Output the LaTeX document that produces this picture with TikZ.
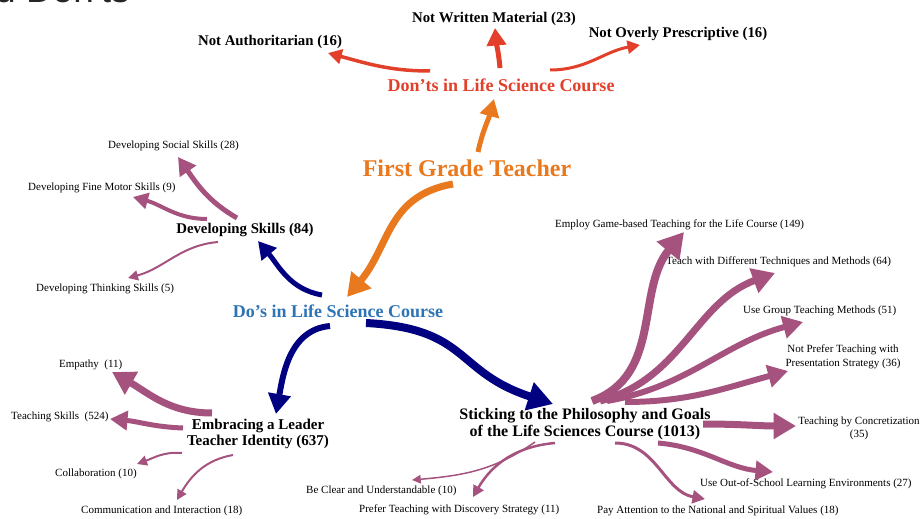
\documentclass[tikz,border=0pt]{standalone}
\usepackage{fontspec}
\setmainfont{Liberation Serif}
\newfontfamily\titlefont{Liberation Sans}
\usetikzlibrary{arrows.meta}

\definecolor{donred}{HTML}{E2402B}
\definecolor{firstorange}{HTML}{E8791E}
\definecolor{dosblue}{HTML}{2E74B5}
\definecolor{linknavy}{HTML}{000080}
\definecolor{linkmauve}{HTML}{A5537E}

\begin{document}
\begin{tikzpicture}[x=1pt,y=1pt,
    main/.style={font=\bfseries\fontsize{18}{20}\selectfont, inner sep=1pt},
    topic/.style={font=\bfseries\fontsize{14.8}{17}\selectfont, align=center, inner sep=1pt},
    leaf/.style={font=\fontsize{11}{13.5}\selectfont, align=center, inner sep=1pt},
    link/.style={-{Triangle[length=5pt 2.5,width=4pt 3]}}
  ]
    % Frame of the whole picture (pixel grid, y going down)
    \useasboundingbox (0,0) rectangle (922,-519);

    % Cut-off title at the top
    \node[anchor=base east, inner sep=0, font=\titlefont\fontsize{37}{40}\selectfont, text=black!85] (title) at (130,-3) {and Don'ts};

    % Root and the two main branches
    \node[main, font=\bfseries\fontsize{24}{26}\selectfont, text=firstorange] (first) at (467,-168) {First Grade Teacher};
    \node[main, text=donred] (dont) at (501,-85) {Don'ts in Life Science Course};
    \node[main, text=dosblue] (dos) at (338,-311) {Do's in Life Science Course};

    % Don'ts leaves
    \node[topic] (notauth) at (270,-42) {Not Authoritarian (16)};
    \node[topic] (notwritten) at (494,-19) {Not Written Material (23)};
    \node[topic] (notover) at (678,-34) {Not Overly Prescriptive (16)};

    % Do's topics
    \node[topic] (devsk) at (245,-230) {Developing Skills (84)};
    \node[topic, font=\bfseries\fontsize{15}{16.5}\selectfont] (embr) at (258,-434) {Embracing a Leader\\Teacher Identity (637)};
    \node[topic, font=\bfseries\fontsize{16}{17}\selectfont] (stick) at (585,-424) {Sticking to the Philosophy and Goals\\of the Life Sciences Course (1013)};

    % Developing Skills leaves
    \node[leaf, anchor=west] (social) at (107,-146) {Developing Social Skills (28)};
    \node[leaf, anchor=west] (finemotor) at (27,-188) {Developing Fine Motor Skills (9)};
    \node[leaf, anchor=west] (thinking) at (35,-289) {Developing Thinking Skills (5)};

    % Embracing leaves
    \node[leaf, anchor=west] (empathy) at (58,-365) {Empathy\ \ (11)};
    \node[leaf, anchor=west] (teachsk) at (10,-417) {Teaching Skills\ \ (524)};
    \node[leaf, anchor=west] (collab) at (54,-474) {Collaboration (10)};
    \node[leaf, anchor=west] (comm) at (80,-511) {Communication and Interaction (18)};

    % Sticking leaves
    \node[leaf, anchor=west] (game) at (554,-225) {Employ Game-based Teaching for the Life Course (149)};
    \node[leaf, anchor=west] (different) at (665,-262) {Teach with Different Techniques and Methods (64)};
    \node[leaf, anchor=west] (group) at (742,-311) {Use Group Teaching Methods (51)};
    \node[leaf, font=\fontsize{11}{14}\selectfont] (notprefer) at (843,-357) {Not Prefer Teaching with\\Presentation Strategy (36)};
    \node[leaf, font=\fontsize{11}{13}\selectfont] (concrete) at (859,-428) {Teaching by Concretization\\(35)};
    \node[leaf, anchor=west] (outschool) at (699,-484) {Use Out-of-School Learning Environments (27)};
    \node[leaf, anchor=west] (payatt) at (596,-511) {Pay Attention to the National and Spiritual Values (18)};
    \node[leaf, anchor=west] (discovery) at (358,-510) {Prefer Teaching with Discovery Strategy (11)};
    \node[leaf, anchor=west] (beclear) at (305,-491) {Be Clear and Understandable (10)};

    % Orange links from the root
    \draw[link, firstorange, line width=7pt] ([shift={(-14,-16)}]first.center) to[out=190,in=50,looseness=1.1] ([shift={(9,14)}]dos.center);
    \draw[link, firstorange, line width=5pt] ([shift={(11,16)}]first.center) to[out=78,in=255] ([shift={(-7,-14)}]dont.center);

    % Red links
    \draw[link, donred, line width=3.5pt] ([shift={(-71,14)}]dont.center) to[out=180,in=-15] ([shift={(58,-11)}]notauth.center);
    \draw[link, donred, line width=5pt] ([shift={(-1,17)}]dont.center) to[out=95,in=-85] ([shift={(1,-9)}]notwritten.center);
    \draw[link, donred, line width=3pt] ([shift={(49,15)}]dont.center) to[out=0,in=190] ([shift={(-38,-11)}]notover.center);

    % Navy links
    \draw[link, linknavy, line width=5pt] ([shift={(-16,16)}]dos.center) to[out=170,in=-50] ([shift={(13,-11)}]devsk.center);
    \draw[link, linknavy, line width=6pt] ([shift={(-8,-15)}]dos.center) to[out=185,in=80] ([shift={(18,20)}]embr.center);
    \draw[link, linknavy, line width=8pt] ([shift={(28,-12)}]dos.center) to[out=-3,in=162,looseness=1.3] ([shift={(-32,20)}]stick.center);

    % Mauve links, Developing Skills
    \draw[link, linkmauve, line width=5pt] ([shift={(-8,12)}]devsk.center) to[out=150,in=-55] ([shift={(71,-11)}]social.west);
    \draw[link, linkmauve, line width=4pt] ([shift={(-38,11)}]devsk.center) to[out=180,in=-15] ([shift={(106,-9)}]finemotor.west);
    \draw[link, linkmauve, line width=2pt] ([shift={(-27,-12)}]devsk.center) to[out=185,in=15] ([shift={(93,11)}]thinking.west);

    % Mauve links, Embracing
    \draw[link, linkmauve, line width=7pt] ([shift={(-46,21)}]embr.center) to[out=180,in=-30] ([shift={(54,-7)}]empathy.west);
    \draw[link, linkmauve, line width=5pt] ([shift={(-75,6)}]embr.center) to[out=178,in=-5] ([shift={(100,-2)}]teachsk.west);
    \draw[link, linkmauve, line width=2pt] ([shift={(-76,-19)}]embr.center) to[out=175,in=20] ([shift={(83,10)}]collab.west);
    \draw[link, linkmauve, line width=2pt] ([shift={(-25,-21)}]embr.center) to[out=190,in=60] ([shift={(97,11)}]comm.west);

    % Mauve links, Sticking
    \draw[link, linkmauve, line width=8pt] ([shift={(7,23)}]stick.center) to[out=20,in=230] ([shift={(130,-7)}]game.west);
    \draw[link, linkmauve, line width=7pt] ([shift={(15,23)}]stick.center) to[out=15,in=200] ([shift={(110,-11)}]different.west);
    \draw[link, linkmauve, line width=6pt] ([shift={(22,23)}]stick.center) to[out=10,in=195] ([shift={(61,-11)}]group.west);
    \draw[link, linkmauve, line width=6pt] ([shift={(40,22)}]stick.center) to[out=0,in=195] ([shift={(-55,-14)}]notprefer.center);
    \draw[link, linkmauve, line width=7pt] ([shift={(118,0)}]stick.center) to[out=0,in=180] ([shift={(-63,2)}]concrete.center);
    \draw[link, linkmauve, line width=5pt] ([shift={(73,-19)}]stick.center) to[out=-5,in=175] ([shift={(74,12)}]outschool.west);
    \draw[link, linkmauve, line width=3pt] ([shift={(30,-19)}]stick.center) to[out=0,in=170] ([shift={(109,12)}]payatt.west);
    \draw[link, linkmauve, line width=2.5pt] ([shift={(-30,-19)}]stick.center) to[out=185,in=60] ([shift={(115,13)}]discovery.west);
    \draw[link, linkmauve, line width=1.5pt] ([shift={(-50,-18)}]stick.center) to[out=215,in=5] ([shift={(107,11)}]beclear.west);

\end{tikzpicture}
\end{document}
